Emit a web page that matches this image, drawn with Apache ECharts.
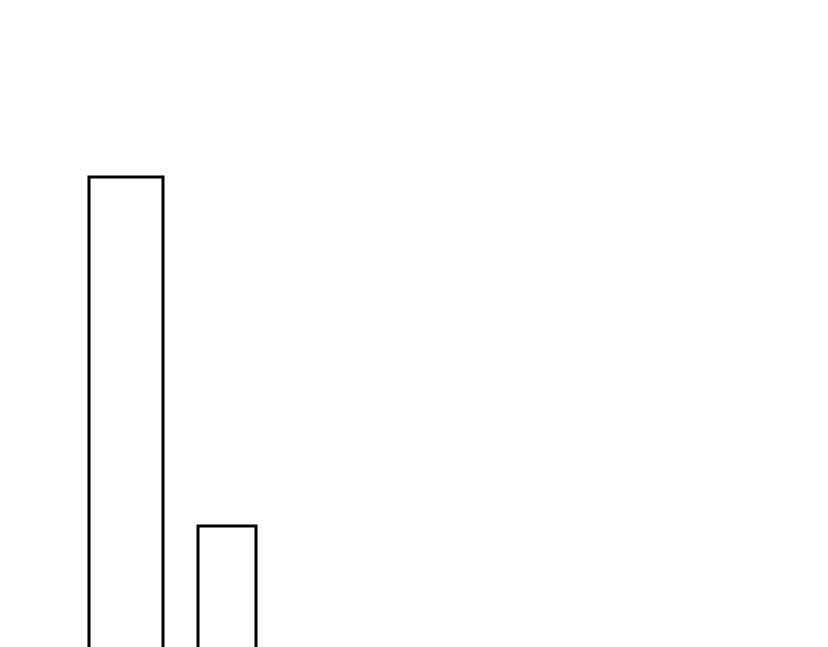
<!DOCTYPE html>
<html>
<head>
<meta charset="utf-8">
<script src="https://cdn.jsdelivr.net/npm/echarts@6/dist/echarts.min.js"></script>
<style>
  html, body { margin: 0; padding: 0; background: #ffffff; }
  #chart { width: 828px; height: 647px; }
</style>
</head>
<body>
<div id="chart"></div>
<script>
// two outlined bars, the axis baseline sits below the visible area
const categories = ["A", "B"];
const values = [30, 10];

const barWidths = [74, 58];

const chart = echarts.init(document.getElementById("chart"));

const option = {
  animation: false,
  backgroundColor: "#ffffff",
  grid: {
    left: 75.5,
    right: 550.5,
    top: 177,
    bottom: -53.5,
    outerBoundsMode: "none"
  },
  xAxis: {
    type: "category",
    data: categories,
    show: false
  },
  yAxis: {
    type: "value",
    min: 0,
    max: 30,
    show: false
  },
  series: [{
    type: "custom",
    clip: false,
    data: values.map((v, i) => [i, v]),
    renderItem: function (params, api) {
      const top = api.coord([api.value(0), api.value(1)]);
      const base = api.coord([api.value(0), 0]);
      const w = barWidths[params.dataIndex];
      return {
        type: "rect",
        shape: {
          x: top[0] - w / 2,
          y: top[1],
          width: w,
          height: base[1] - top[1]
        },
        style: {
          fill: "#ffffff",
          stroke: "#000000",
          lineWidth: 3
        }
      };
    }
  }]
};

chart.setOption(option);
</script>
</body>
</html>
